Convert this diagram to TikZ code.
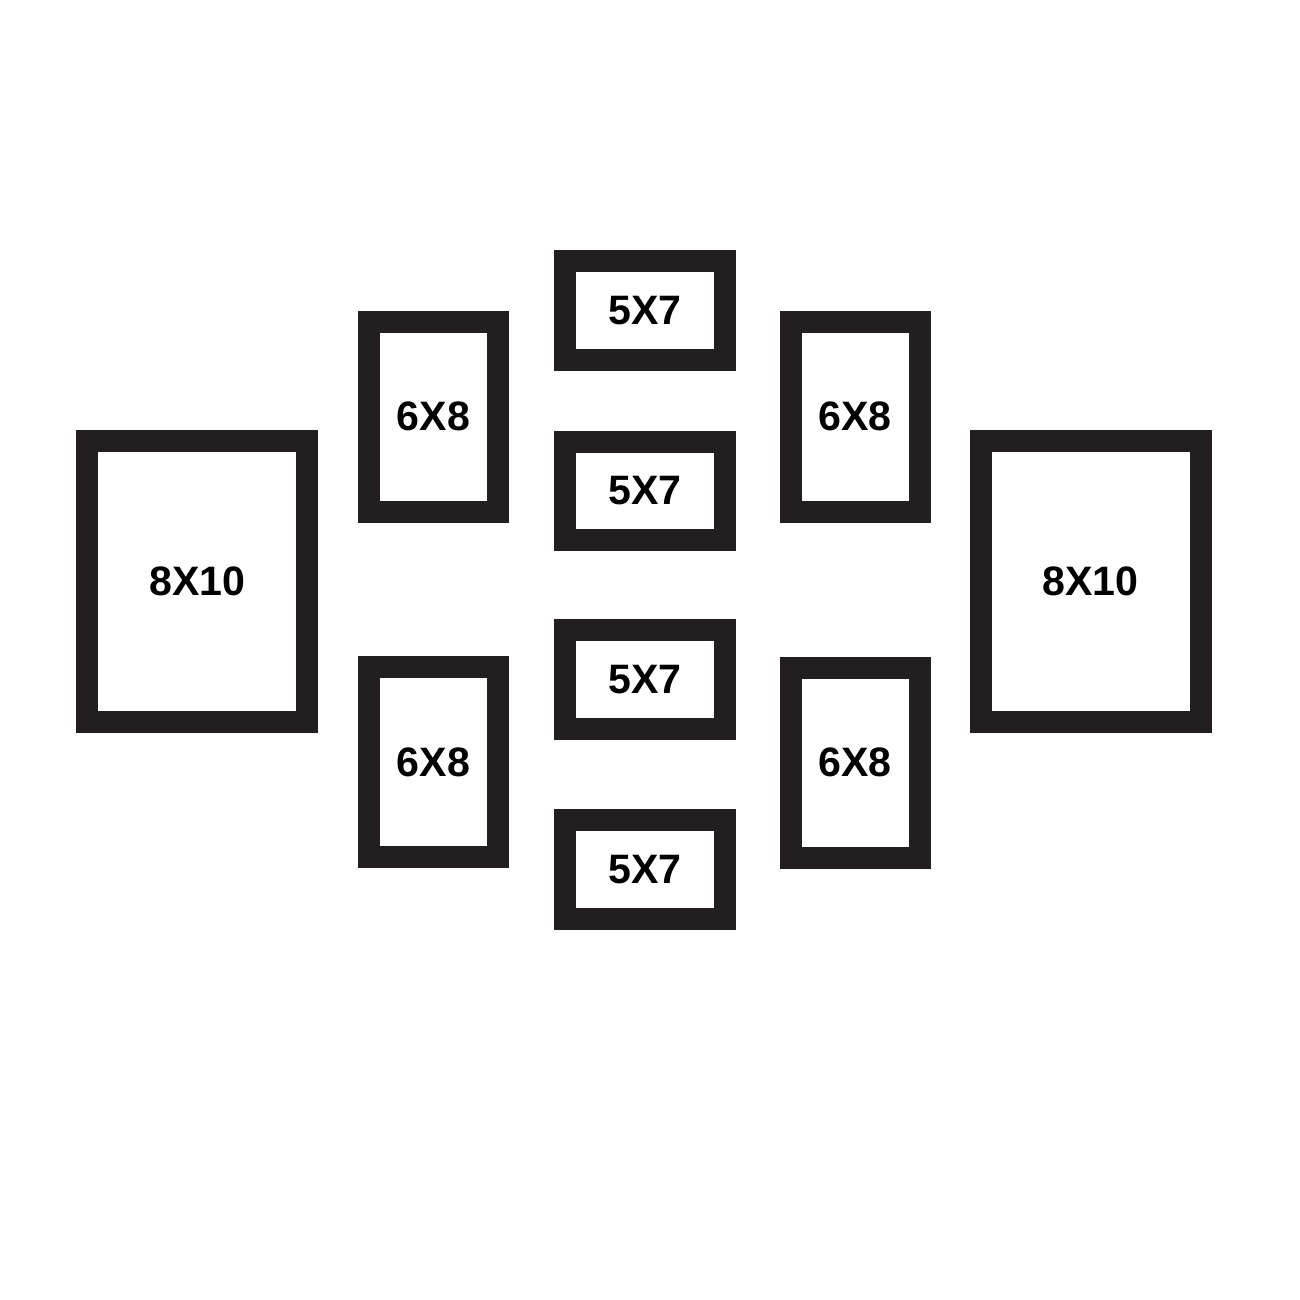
\documentclass[tikz,border=0pt]{standalone}
\usepackage{fontspec}
\setmainfont{Liberation Sans}
\definecolor{framecol}{RGB}{35,31,32}

\begin{document}
\begin{tikzpicture}[
  every node/.style = {shape=rectangle, draw=framecol, line width=0.22cm,
    inner sep=0pt, align=center, font=\fontsize{11.7}{14}\selectfont\bfseries},
  frame8x10/.style = {minimum width=2.20cm, minimum height=2.805cm},
  frame6x8/.style  = {minimum width=1.29cm, minimum height=1.90cm},
  frame5x7/.style  = {minimum width=1.60cm, minimum height=0.985cm}]
  \useasboundingbox (0,0) rectangle (13,13);
  % the two big ones at the sides
  \node[frame8x10] (big-l) at (1.973,7.185) {8X10};
  \node[frame8x10] (big-r) at (10.905,7.185) {8X10};
  % 6x8 frames
  \node[frame6x8] (mid-tl) at (4.333,8.832) {6X8};
  \node[frame6x8] (mid-bl) at (4.333,5.375) {6X8};
  \node[frame6x8] (mid-tr) at (8.550,8.832) {6X8};
  \node[frame6x8] (mid-br) at (8.550,5.372) {6X8};
  % 5x7 column in the middle
  \node[frame5x7] (small-1) at (6.452,9.897) {5X7};
  \node[frame5x7] (small-2) at (6.452,8.091) {5X7};
  \node[frame5x7] (small-3) at (6.452,6.205) {5X7};
  \node[frame5x7] (small-4) at (6.452,4.307) {5X7};
\end{tikzpicture}
\end{document}
